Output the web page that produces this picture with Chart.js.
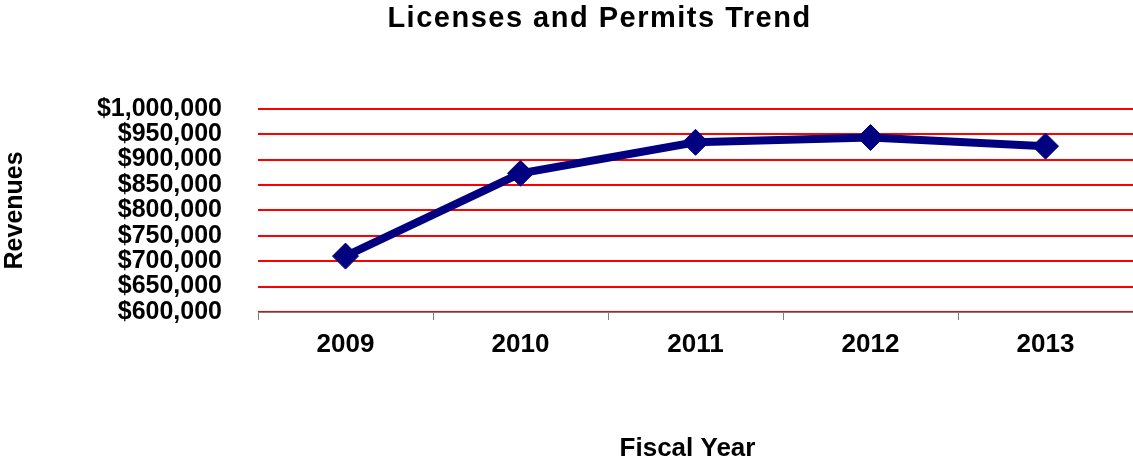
<!DOCTYPE html>
<html>
<head>
<meta charset="utf-8">
<title>Licenses and Permits Trend</title>
<script src="https://cdn.jsdelivr.net/npm/chart.js@4.4.1/dist/chart.umd.min.js"></script>
<style>
  html, body { margin: 0; padding: 0; background: #ffffff; }
  #wrap { width: 1133px; height: 464px; }
</style>
</head>
<body>
<div id="wrap"><canvas id="chart" width="1133" height="464"></canvas></div>
<script>
// Fiscal years and licenses & permits revenues
const fiscalYears = ['2009', '2010', '2011', '2012', '2013'];
const revenues = [710000, 873000, 934000, 943500, 926500];

// Revenue axis range and step
const revenueMin = 600000;
const revenueMax = 1000000;
const revenueStep = 50000;

const FONT = '"Liberation Sans", Arial, sans-serif';
const NAVY = '#000080';

// Title lettering spread and horizontal nudges for the chart and x-axis titles
const titleTweaks = {
  id: 'titleTweaks',
  afterLayout(chart) {
    const tb = chart.titleBlock;
    if (tb && !tb._wrapped) {
      const orig = tb.draw;
      tb.draw = function (area) {
        const ctx = this.ctx;
        ctx.save();
        ctx.letterSpacing = '1.5px';
        orig.call(this, area);
        ctx.restore();
      };
      tb._wrapped = true;
    }
    const xs = chart.scales.x;
    if (xs && !xs._wrapped) {
      const origTitle = xs.drawTitle;
      xs.drawTitle = function () {
        this.left -= 8;
        this.right -= 8;
        origTitle.call(this);
        this.left += 8;
        this.right += 8;
      };
      xs._wrapped = true;
    }
  },
  beforeDraw(chart) {
    const tb = chart.titleBlock;
    if (tb && !tb._shifted) {
      tb.left += 32;
      tb.right += 32;
      tb._shifted = true;
    }
  }
};

new Chart(document.getElementById('chart'), {
  type: 'line',
  data: {
    labels: fiscalYears,
    datasets: [{
      label: 'Revenues',
      data: revenues,
      borderColor: NAVY,
      backgroundColor: NAVY,
      borderWidth: 8,
      pointStyle: 'rectRot',
      pointRadius: 13,
      pointBorderWidth: 1,
      pointBackgroundColor: NAVY,
      pointBorderColor: NAVY,
      tension: 0,
      fill: false,
      clip: false
    }]
  },
  options: {
    responsive: false,
    animation: false,
    layout: { autoPadding: false, padding: { left: 0, right: -2, top: 0, bottom: 0 } },
    plugins: {
      legend: { display: false },
      tooltip: { enabled: false },
      title: {
        display: true,
        text: 'Licenses and Permits Trend',
        color: '#000000',
        font: { family: FONT, size: 29, weight: 'bold' },
        padding: { top: 2, bottom: 72 }
      }
    },
    scales: {
      x: {
        type: 'category',
        offset: true,
        grid: {
          offset: true,
          drawOnChartArea: false,
          drawTicks: true,
          tickLength: 8,
          color: '#7f7f7f',
          lineWidth: 1
        },
        border: { display: true, color: '#7f7f7f', width: 1 },
        ticks: {
          color: '#000000',
          font: { family: FONT, size: 26, weight: 'bold' },
          padding: 9,
          maxRotation: 0,
          autoSkip: false
        },
        title: {
          display: true,
          text: 'Fiscal Year',
          color: '#000000',
          font: { family: FONT, size: 26, weight: 'bold' },
          padding: { top: 0, bottom: 0 }
        },
        afterFit(scale) { scale.height = 152; }
      },
      y: {
        min: revenueMin,
        max: revenueMax,
        grid: {
          color: '#ff0000',
          lineWidth: 2,
          drawTicks: false,
          tickLength: 0
        },
        border: { display: false },
        ticks: {
          stepSize: revenueStep,
          autoSkip: false,
          color: '#000000',
          font: { family: FONT, size: 25, weight: 'bold' },
          padding: 36,
          callback: (v) => '$' + Number(v).toLocaleString('en-US')
        },
        title: {
          display: true,
          text: 'Revenues',
          color: '#000000',
          font: { family: FONT, size: 25, weight: 'bold' },
          padding: { top: 0, bottom: 0 }
        },
        afterFit(scale) { scale.width = 258; }
      }
    }
  },
  plugins: [titleTweaks]
});
</script>
</body>
</html>
